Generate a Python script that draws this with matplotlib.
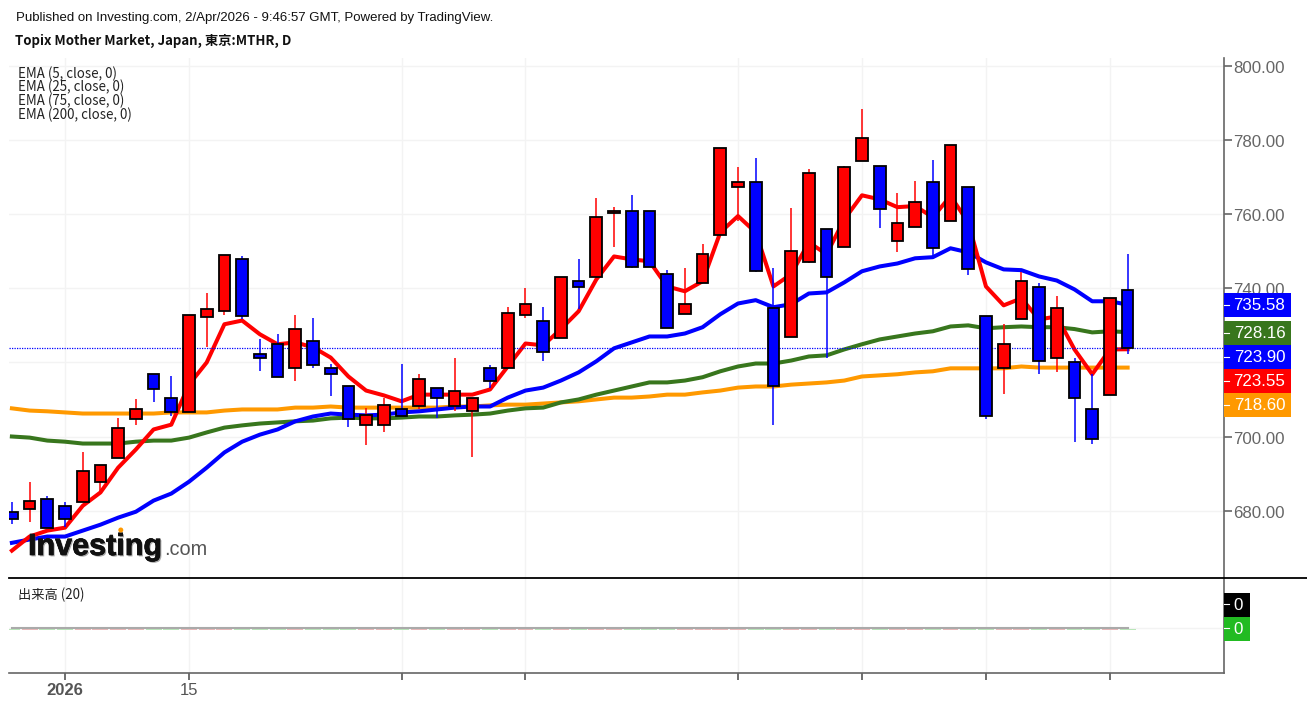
import matplotlib
matplotlib.use('Agg')
import matplotlib.pyplot as plt
import matplotlib.patheffects as pe
from matplotlib.lines import Line2D
from matplotlib.patches import Rectangle, Ellipse
from matplotlib.transforms import ScaledTranslation

W, H = 1307, 706

opens = [679.7, 680.5, 683.0, 681.3, 682.2, 687.6, 694.3, 704.6, 717.0, 710.5, 706.5, 732.2, 734.0, 747.8, 722.4, 724.9,
         718.4, 725.7, 718.4, 713.5, 703.2, 703.2, 707.3, 708.1, 713.0, 708.1, 707.0, 718.4, 718.4, 732.7, 731.3, 726.5,
         742.1, 743.0, 760.3, 760.8, 760.8, 743.8, 733.0, 741.4, 754.3, 767.3, 768.6, 734.6, 726.8, 747.0, 755.9, 751.1,
         774.3, 773.0, 752.7, 756.5, 768.6, 758.1, 767.3, 732.4, 718.4, 731.6, 740.3, 721.1, 720.0, 707.3, 711.3, 739.5]
highs = [682.2, 687.6, 684.0, 682.4, 695.7, 692.4, 704.9, 710.0, 717.0, 716.2, 732.7, 738.6, 748.9, 748.6, 726.2, 727.6,
         732.7, 731.9, 719.7, 713.5, 707.8, 710.3, 719.7, 717.0, 713.0, 721.1, 710.5, 719.4, 734.9, 740.0, 734.9, 743.0,
         747.8, 764.3, 761.9, 765.1, 760.8, 744.9, 745.4, 751.9, 777.8, 772.7, 775.1, 745.4, 761.6, 772.2, 755.9, 773.0,
         788.4, 773.0, 765.7, 768.9, 774.6, 778.6, 767.3, 732.4, 730.3, 744.3, 741.4, 737.8, 721.1, 716.8, 737.3, 749.2]
lows = [676.5, 677.0, 675.4, 675.7, 682.2, 684.9, 694.1, 703.0, 709.2, 705.4, 706.5, 724.1, 732.7, 731.6, 717.6, 716.0,
        715.1, 718.4, 710.8, 702.7, 697.8, 701.3, 705.4, 707.3, 705.1, 706.8, 694.6, 713.2, 718.4, 731.9, 720.5, 726.5,
        734.3, 743.0, 751.1, 745.4, 745.7, 729.2, 733.0, 741.4, 754.3, 758.1, 744.3, 703.2, 726.8, 746.7, 721.1, 751.1,
        774.3, 756.2, 749.7, 756.5, 748.6, 758.1, 743.5, 704.6, 711.6, 731.6, 717.0, 717.3, 698.4, 698.1, 711.3, 722.2]
closes = [677.8, 682.7, 675.4, 677.8, 690.8, 692.4, 702.2, 707.3, 712.7, 706.5, 732.7, 734.3, 748.9, 732.4, 721.3, 716.0,
          728.9, 719.2, 716.8, 704.6, 705.7, 708.6, 705.4, 715.4, 710.3, 712.2, 710.5, 715.1, 733.2, 735.7, 722.7, 743.0,
          740.3, 759.2, 760.8, 745.7, 745.7, 729.2, 735.7, 749.2, 777.8, 768.6, 744.6, 713.5, 750.0, 771.1, 743.0, 772.7,
          780.5, 761.4, 757.6, 763.2, 750.8, 778.6, 745.1, 705.4, 724.9, 741.9, 720.3, 734.6, 710.3, 699.2, 737.3, 723.9]

ema5 = [669.2, 673.0, 674.6, 675.4, 681.3, 684.9, 691.6, 696.5, 701.9, 703.2, 714.0, 720.0, 730.3, 731.3, 727.6, 724.9,
        725.4, 724.1, 721.3, 716.2, 712.4, 711.1, 709.5, 711.3, 711.3, 711.3, 711.3, 712.7, 718.9, 725.1, 724.6, 729.0,
        733.8, 742.4, 748.6, 747.8, 747.3, 740.5, 739.2, 741.9, 755.1, 759.5, 755.1, 740.5, 743.8, 752.4, 749.2, 758.6,
        765.1, 764.0, 761.9, 762.2, 759.2, 764.9, 757.8, 740.5, 735.4, 737.3, 731.6, 732.4, 723.5, 716.8, 723.5, 723.55]
ema25 = [671.3, 672.2, 673.0, 673.0, 674.6, 676.2, 678.1, 679.7, 682.7, 684.6, 687.8, 691.6, 695.7, 698.6, 700.5, 701.9,
         704.1, 705.4, 706.2, 705.9, 705.7, 705.9, 706.5, 706.8, 707.3, 707.8, 708.1, 708.1, 710.5, 712.4, 713.2, 715.1,
         717.3, 720.3, 723.8, 725.4, 727.0, 727.0, 727.8, 729.5, 733.0, 735.9, 736.8, 734.9, 735.7, 738.6, 738.9, 741.6,
         744.6, 745.9, 746.7, 748.1, 748.4, 750.8, 749.7, 747.0, 745.1, 744.9, 743.2, 742.1, 739.7, 736.5, 736.5, 735.58]
ema75 = [700.0, 699.7, 698.9, 698.6, 698.1, 698.1, 698.1, 698.6, 698.9, 698.9, 699.7, 701.1, 702.4, 703.0, 703.5, 703.8,
         704.1, 704.3, 704.9, 705.1, 704.9, 704.9, 705.1, 705.4, 705.4, 705.7, 705.9, 706.2, 707.0, 707.6, 707.8, 709.2,
         710.0, 711.3, 712.4, 713.5, 714.6, 714.6, 715.1, 716.0, 717.6, 718.9, 719.7, 719.7, 720.5, 721.6, 721.9, 723.5,
         724.9, 726.2, 727.0, 727.8, 728.4, 729.7, 730.0, 729.2, 729.5, 729.7, 729.5, 729.5, 729.0, 728.1, 728.4, 728.16]
ema200 = [707.6, 707.0, 706.8, 706.5, 706.2, 706.2, 706.2, 706.2, 706.2, 706.5, 706.5, 706.5, 707.0, 707.3, 707.3, 707.3,
          707.8, 707.8, 708.1, 707.8, 707.8, 707.8, 707.8, 707.8, 707.8, 708.1, 708.1, 708.4, 708.6, 708.6, 708.9, 709.2,
          709.5, 710.0, 710.5, 710.5, 710.8, 711.3, 711.3, 711.9, 712.4, 713.2, 713.5, 713.5, 714.0, 714.3, 714.6, 715.1,
          716.2, 716.5, 716.8, 717.3, 717.6, 718.4, 718.4, 718.4, 718.4, 718.9, 718.6, 718.6, 718.6, 718.6, 718.6, 718.6]
volume = [0] * 64

y_ticks = [680, 700, 720, 740, 760, 780, 800]
y_labels = ['680.00', '700.00', '', '740.00', '760.00', '780.00', '800.00']  # 720.00 sits behind the value boxes
grid_bars = [3, 10, 22, 29, 41, 48, 55, 62]
grid_labels = ['2026', '15', '', '', '', '', '', '']
ema_names = ['EMA (5, close, 0)', 'EMA (25, close, 0)', 'EMA (75, close, 0)', 'EMA (200, close, 0)']
last_labels = ['735.58', '728.16', '723.90', '723.55', '718.60']
last_colors = ['#0000ff', '#38761d', '#0000ff', '#ff0000', '#ff9900']

plt.rcParams['font.family'] = ['Liberation Sans', 'DejaVu Sans']
cjk = ['Noto Sans CJK JP', 'DejaVu Sans']


def fx(px):
    return px / W


def fy(px):
    return 1 - px / H


fig = plt.figure(figsize=(W / 100, H / 100), dpi=100, facecolor='white')
ax = fig.add_axes([fx(9), fy(578), fx(1223.5 - 9), (578 - 58) / H])
vol = fig.add_axes([fx(9), fy(673), fx(1223.5 - 9), (673 - 578) / H])

xlim = ((9 - 11.9) / 17.71, (1223.5 - 11.9) / 17.71)
bars = list(range(len(closes)))

# price panel
ax.set_xlim(xlim)
ax.set_ylim(661.81, 802.16)
ax.set_xticks(grid_bars)
ax.set_yticks(y_ticks)
ax.grid(True, color='#f3f3f3', lw=1)
ax.set_axisbelow(True)
ax.tick_params(axis='x', length=0, labelbottom=False)
ax.yaxis.tick_right()
ax.tick_params(axis='y', length=6, width=1.2, color='#666666', labelcolor='#666666', labelsize=12.2, pad=1.2)
ax.set_yticklabels(y_labels)
for label in ax.get_yticklabels():
    label.set_transform(label.get_transform() + ScaledTranslation(0, -0.01, fig.dpi_scale_trans))
for s in ['top', 'left', 'bottom']:
    ax.spines[s].set_visible(False)
ax.spines['right'].set_color('#666666')
ax.spines['right'].set_linewidth(1.2)

ax.plot(bars, ema200, color='#ff9900', lw=2.9, zorder=3, solid_joinstyle='round')
ax.plot(bars, ema75, color='#38761d', lw=2.9, zorder=3.1, solid_joinstyle='round')
ax.plot(bars, ema25, color='#0000ff', lw=2.9, zorder=3.2, solid_joinstyle='round')
ax.plot(bars, ema5, color='#ff0000', lw=2.9, zorder=3.3, solid_joinstyle='round')
ax.axhline(closes[-1], color='#0000ff', lw=0.9, ls=(0, (1, 1)), zorder=3.4)

colors = ['#ff0000' if c >= o else '#0000ff' for o, c in zip(opens, closes)]
ax.vlines(bars, lows, highs, colors=colors, lw=1.1, zorder=4)
ax.bar(bars, [abs(c - o) for o, c in zip(opens, closes)], bottom=[min(o, c) for o, c in zip(opens, closes)],
       width=0.66, color=colors, edgecolor='black', linewidth=1.3, zorder=5)

# volume panel
vol.set_xlim(xlim)
vol.set_ylim(-0.474, 0.526)
vol.set_xticks(grid_bars)
vol.set_xticklabels(grid_labels)
vol.set_yticks([0])
vol.set_yticklabels([''])
vol.grid(True, color='#f3f3f3', lw=1)
vol.set_axisbelow(True)
vol.tick_params(axis='x', length=5, width=1.2, color='#555555', labelcolor='#555555', labelsize=12, pad=2.5)
vol.tick_params(axis='y', length=0)
vol.get_xticklabels()[0].set_fontweight('bold')
for s in ['top', 'left']:
    vol.spines[s].set_visible(False)
vol.spines['bottom'].set_color('#666666')
vol.spines['bottom'].set_linewidth(1.2)
vol.spines['right'].set_color('#666666')
vol.spines['right'].set_linewidth(1.2)

vol_colors = ['#e9b8b8' if c == '#ff0000' else '#b9e6b9' for c in colors]
vol.bar(bars, [0.012] * len(bars), bottom=[v - 0.02 for v in volume], width=0.9, color=vol_colors, zorder=2)
vol.plot(bars, volume, color='#aaaaaa', lw=1.5, zorder=3)

# panel separator
fig.add_artist(Line2D([fx(9), 1], [fy(578), fy(578)], color='black', lw=1.3, zorder=2))

# last value boxes
box_tops = [293, 321, 345, 369, 393]
for top, label, color in zip(box_tops, last_labels, last_colors):
    fig.add_artist(Rectangle((fx(1224), fy(top + 24)), fx(67), 24 / H, color=color, lw=0, zorder=2))
    fig.add_artist(Line2D([fx(1224), fx(1229)], [fy(top + 12)] * 2, color='white', lw=0.8, zorder=2.5))
    fig.text(fx(1259.5), fy(top + 12.5), label, color='white', fontsize=12.2, ha='center', va='center', zorder=3)

for top, label, color in [(593, '0', '#000000'), (617, '0', '#22bb22')]:
    fig.add_artist(Rectangle((fx(1224), fy(top + 24)), fx(26), 24 / H, color=color, lw=0, zorder=2))
    fig.add_artist(Line2D([fx(1224), fx(1229)], [fy(top + 11)] * 2, color='white', lw=0.8, zorder=2.5))
    fig.text(fx(1238.5), fy(top + 12.5), label, color='white', fontsize=12.2, ha='center', va='center', zorder=3)

# header
fig.text(fx(16), fy(18), 'Published on Investing.com, 2/Apr/2026 - 9:46:57 GMT, Powered by TradingView.',
         fontsize=9.55, color='#111111', va='center')
fig.text(fx(15), fy(41), 'Topix Mother Market, Japan, 東京:MTHR, D', fontsize=9.5, weight='bold',
         family=cjk, color='#111111', va='center')

for y, name in zip([73.5, 86.5, 100.5, 114.5], ema_names):
    fig.text(fx(18), fy(y), name, fontsize=9.55, family=cjk, color='#222222', va='center')
fig.text(fx(18), fy(595), '出来高 (20)', fontsize=9.55, family=cjk, color='#222222', va='center')

# logo
logo = fig.text(fx(28), fy(555), 'Investing', fontsize=22, weight='bold', color='#111111', va='baseline', zorder=6)
logo.set_path_effects([pe.withSimplePatchShadow(offset=(1, -1), shadow_rgbFace='#555555', alpha=0.5),
                       pe.withStroke(linewidth=0.5, foreground='#111111')])
fig.text(fx(164), fy(555), '.com', fontsize=14.3, color='#555555', va='baseline', zorder=6)
fig.add_artist(Ellipse((fx(120.8), fy(530)), 5 / W, 5 / H, color='#ff9900', lw=0, zorder=7))

fig.savefig('out.png', dpi=100)
plt.close(fig)
